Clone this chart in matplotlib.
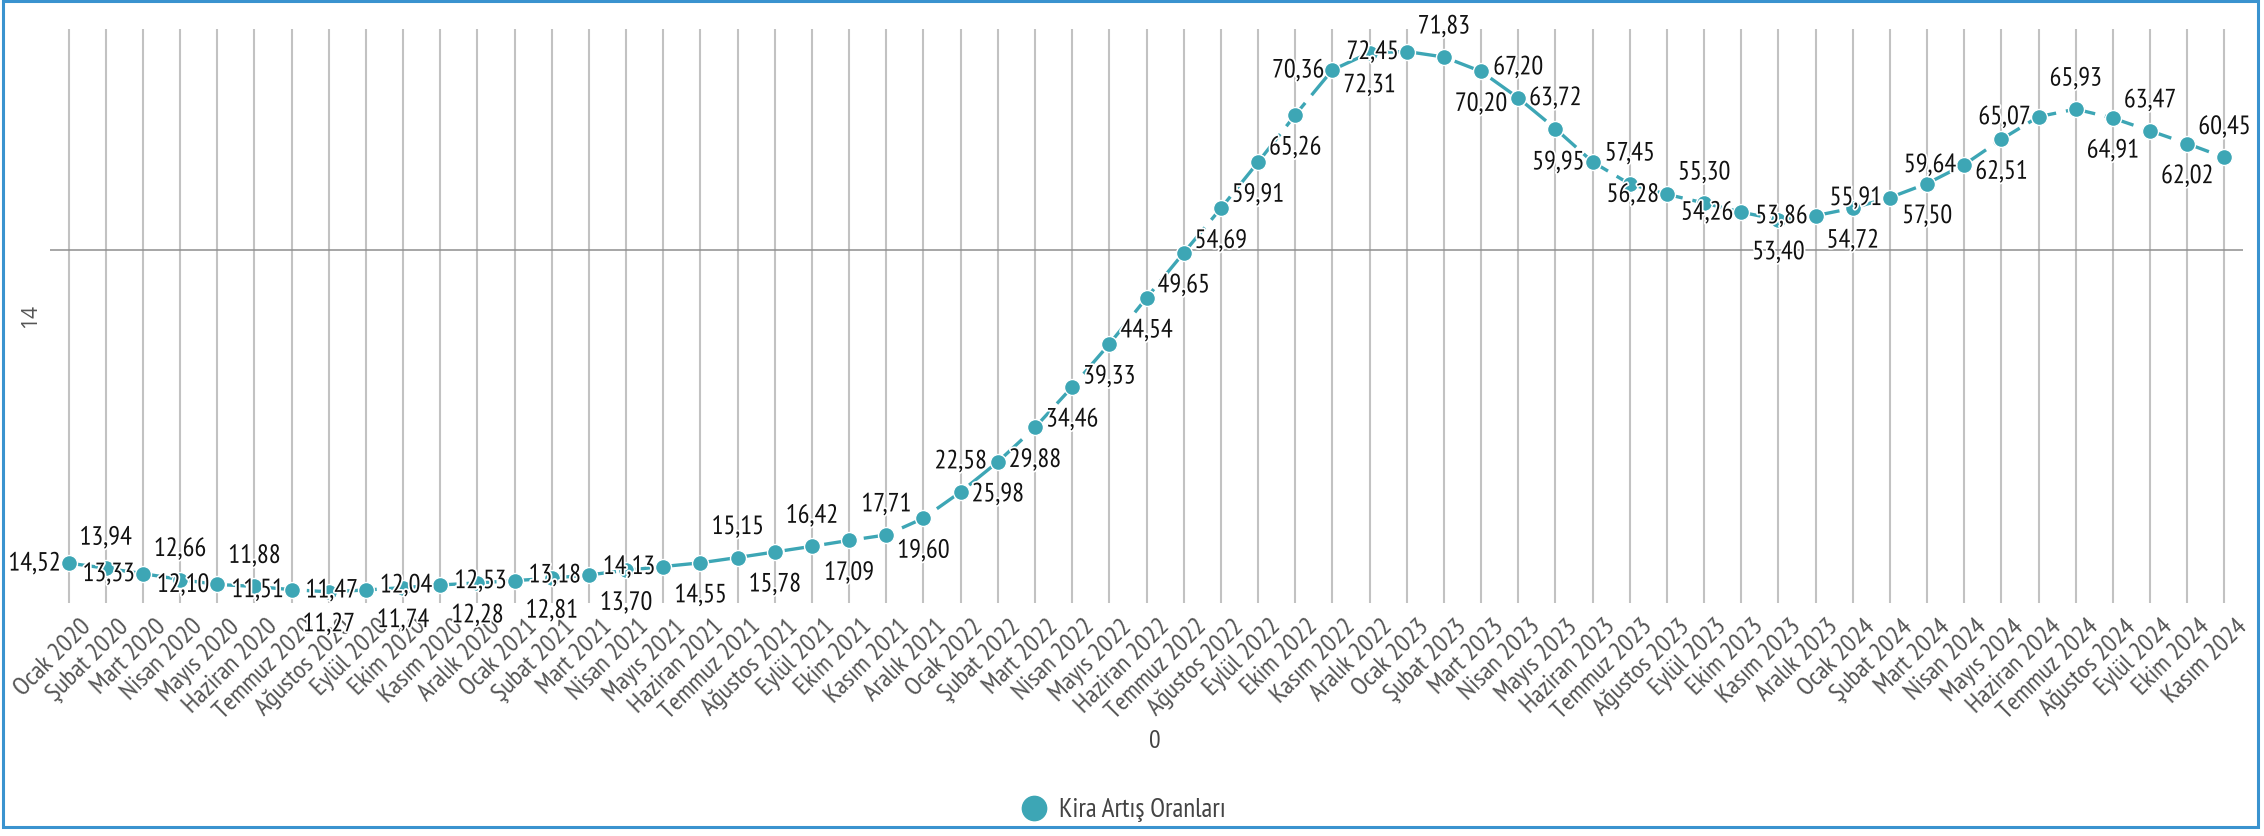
import matplotlib
matplotlib.use("Agg")
import matplotlib.pyplot as plt
from matplotlib.lines import Line2D
from matplotlib.patches import Rectangle
from matplotlib import transforms
from matplotlib import font_manager as fm
import matplotlib.patheffects as pe

# ---- data ----
month_names = ["Ocak", "Şubat", "Mart", "Nisan", "Mayıs", "Haziran",
               "Temmuz", "Ağustos", "Eylül", "Ekim", "Kasım", "Aralık"]
years = [2020, 2021, 2022, 2023, 2024]
categories = [f"{m} {y}" for y in years for m in month_names][:59]

values = [14.52, 13.94, 13.33, 12.66, 12.10, 11.88, 11.51, 11.27, 11.47, 11.74,
          12.04, 12.28, 12.53, 12.81, 13.18, 13.70, 14.13, 14.55, 15.15, 15.78,
          16.42, 17.09, 17.71, 19.60, 22.58, 25.98, 29.88, 34.46, 39.33, 44.54,
          49.65, 54.69, 59.91, 65.26, 70.36, 72.31, 72.45, 71.83, 70.20, 67.20,
          63.72, 59.95, 57.45, 56.28, 55.30, 54.26, 53.40, 53.86, 54.72, 55.91,
          57.50, 59.64, 62.51, 65.07, 65.93, 64.91, 63.47, 62.02, 60.45]

# data label placement: L = left, A = above, B = below
label_pos = ["L", "A", "L", "A", "L", "A", "L", "B", "L", "B",
             "L", "B", "L", "B", "L", "B", "L", "B", "A", "B",
             "A", "B", "A", "B", "A", "B", "B", "B", "B", "B",
             "B", "B", "B", "B", "L", "B", "L", "A", "B", "A",
             "A", "L", "A", "L", "A", "L", "B", "L", "B", "L",
             "B", "L", "B", "L", "A", "B", "A", "B", "A"]

series_name = "Kira Artış Oranları"
y_title = "14"
x_title = "0"

# ---- font choice: prefer a narrow/condensed face ----
names = {f.name for f in fm.fontManager.ttflist}
cond_family = "DejaVu Sans"
for cand in ["PT Sans Narrow", "Roboto Condensed", "Liberation Sans Narrow"]:
    if cand in names:
        cond_family = cand
        break
COND = [cond_family, "DejaVu Sans"]

# ---- style ----
W, H, DPI = 2264, 836, 100
TEAL = "#3da6b5"
# (dx px, dy px, ha)
offsets_px = {"L": (-8, -1, "right"), "A": (0, 30, "center"), "B": (0, -33, "center")}

fig = plt.figure(figsize=(W / DPI, H / DPI), dpi=DPI)
left, right, top, bottom = 50, 2243, 29, 603
ax = fig.add_axes([left / W, 1 - bottom / H, (right - left) / W, (bottom - top) / H])

x = list(range(len(values)))
ax.plot(x, values, color=TEAL, lw=2.4, dashes=(9, 3), marker="o",
        markersize=11.5, markerfacecolor=TEAL, markeredgecolor="white",
        markeredgewidth=1.0, zorder=3, dash_capstyle="butt")

ax.set_xlim(-0.5, len(values) - 0.5)
ax.set_ylim(10, 75)

for s in ax.spines.values():
    s.set_visible(False)

ax.set_yticks([50])
ax.set_yticklabels([])
ax.tick_params(axis="y", length=0)
ax.set_xticks(x)
ax.set_xticklabels(categories, rotation=45, ha="right", va="top",
                   rotation_mode="anchor", fontsize=19, color="#555555",
                   family=COND)
ax.tick_params(axis="x", length=0, pad=0)
off = transforms.ScaledTranslation(0.11, -0.12, fig.dpi_scale_trans)
for lab in ax.get_xticklabels():
    lab.set_transform(lab.get_transform() + off)

ax.grid(axis="x", color="#c2c2c2", lw=1.5, zorder=0)
ax.grid(axis="y", color="#8e8e8e", lw=1.1, zorder=0)
ax.set_axisbelow(True)

# data labels
for xi, v, p in zip(x, values, label_pos):
    dx, dy, ha = offsets_px[p]
    ax.annotate(f"{v:.2f}".replace(".", ","), (xi, v),
                xytext=(dx * 72 / DPI, dy * 72 / DPI), textcoords="offset points",
                ha=ha, va="center", fontsize=19, color="#111111",
                family=COND, zorder=5,
                path_effects=[pe.withStroke(linewidth=2.5, foreground="white")])

# axis titles
ax.set_ylabel(y_title, fontsize=15, color="#555555", family="Open Sans")
ax.yaxis.set_label_coords(-0.004, 0.5)
ax.set_xlabel(x_title, fontsize=18.5, color="#444444", family=COND)
ax.xaxis.set_label_coords((1155 - left) / (right - left), -(730 - bottom) / (bottom - top))

# legend
handle = Line2D([], [], ls="none", marker="o", markersize=17.5, color=TEAL,
                markeredgecolor=TEAL)
fig.legend([handle], [series_name], loc="center",
           bbox_to_anchor=(1123 / W, 1 - 810 / H), frameon=False,
           handletextpad=0.4, handlelength=1.0,
           prop={"family": COND, "size": 19.5},
           labelcolor="#444444")

# outer border
fig.add_artist(Rectangle((3 / W, 9 / H), (2258 - 3) / W, (836 - 10) / H,
                         transform=fig.transFigure, fill=False,
                         edgecolor="#3a93cf", lw=2.2))

fig.savefig("out.png", dpi=DPI)
